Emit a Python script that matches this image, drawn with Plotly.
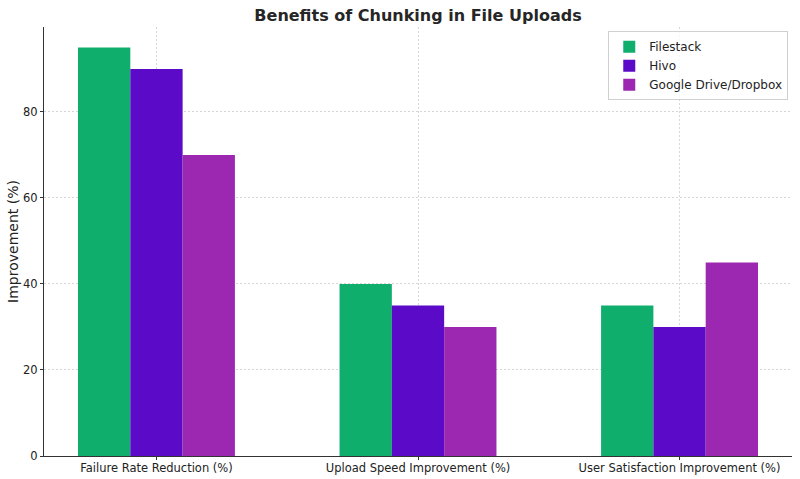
import plotly.graph_objects as go

categories = ["Failure Rate Reduction (%)", "Upload Speed Improvement (%)", "User Satisfaction Improvement (%)"]
series_names = ["Filestack", "Hivo", "Google Drive/Dropbox"]
filestack = [95, 40, 35]
hivo = [90, 35, 30]
gdrive = [70, 30, 45]
colors = ["#10AE6C", "#5B0BC7", "#9C27B0"]

fig = go.Figure()
for name, vals, c in zip(series_names, [filestack, hivo, gdrive], colors):
    fig.add_trace(go.Bar(x=list(range(len(categories))), y=vals, name=name,
                         marker=dict(color=c, line=dict(width=0))))

font = "DejaVu Sans, Verdana, sans-serif"
grid = dict(showgrid=True, gridcolor="#d6d6d6", griddash="2px,2px", gridwidth=1)
fig.update_layout(
    width=800, height=479,
    margin=dict(l=44, r=8, t=27, b=23, autoexpand=False),
    paper_bgcolor="white", plot_bgcolor="white",
    font=dict(family=font, size=11.5, color="#222"),
    barmode="group", bargap=0.4, bargroupgap=0,
    title=dict(text="<b>Benefits of Chunking in File Uploads</b>", x=0.5, xref="paper", xanchor="center",
               y=0.968, yanchor="middle", font=dict(size=16, color="#262626")),
    legend=dict(x=0.995, y=0.99, xanchor="right", yanchor="top",
                bordercolor="#d0d0d0", borderwidth=1, bgcolor="rgba(255,255,255,0.8)",
                font=dict(size=12), tracegroupgap=0),
    xaxis=dict(range=[-0.43, 2.43], tickmode="array", tickvals=[0, 1, 2], ticktext=categories,
               showline=True, linecolor="#333", linewidth=1, ticks="outside", ticklen=3,
               ticklabelstandoff=-2,
               tickcolor="#333", zeroline=False, layer="above traces", automargin=False, **grid),
    yaxis=dict(range=[0, 99.75], tickvals=[0, 20, 40, 60, 80],
               showline=True, linecolor="#333", linewidth=1, ticks="outside", ticklen=3,
               tickcolor="#333", zeroline=False, layer="above traces", automargin=False,
               title=dict(text="Improvement (%)", font=dict(size=14), standoff=1), **grid),
)
fig.write_html("out.html")
